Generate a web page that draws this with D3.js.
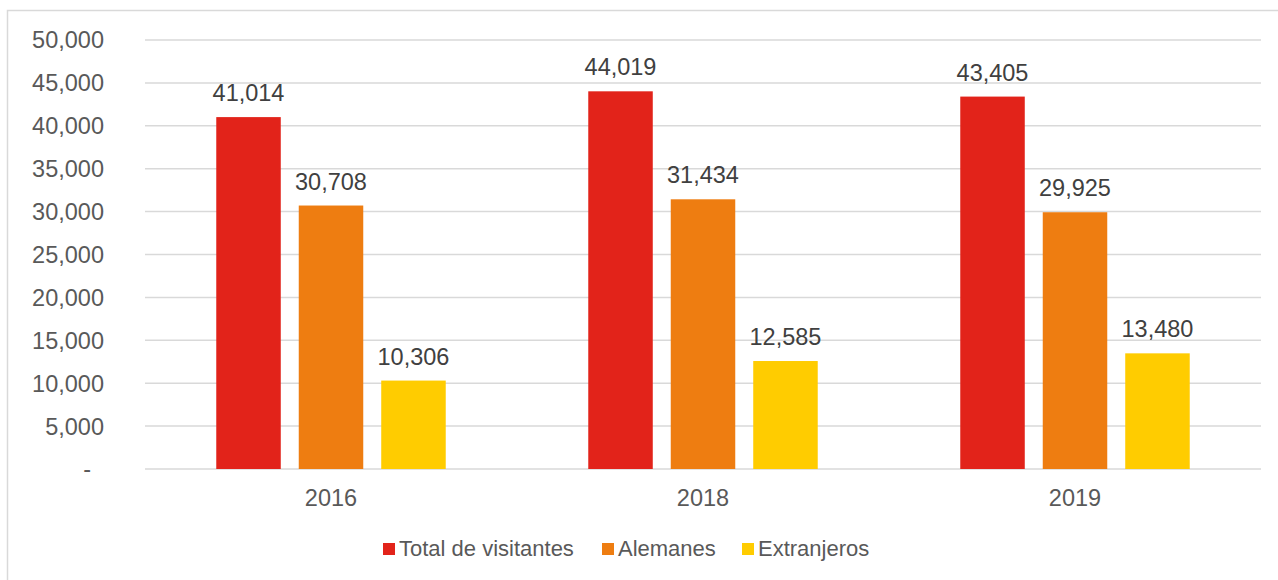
<!DOCTYPE html>
<html>
<head>
<meta charset="utf-8">
<script src="https://cdn.jsdelivr.net/npm/d3@7"></script>
<style>
  body { margin: 0; background: #fff; }
  text { font-family: "Liberation Sans", Arial, sans-serif; fill: #595959; }
</style>
</head>
<body>
<div id="chart"></div>
<script>
const width = 1278, height = 580;

// data
var years = ["2016", "2018", "2019"];
var seriesNames = ["Total de visitantes", "Alemanes", "Extranjeros"];
var totalVisitantes = [41014, 44019, 43405];
var alemanes = [30708, 31434, 29925];
var extranjeros = [10306, 12585, 13480];
var yTicks = [0, 5000, 10000, 15000, 20000, 25000, 30000, 35000, 40000, 45000, 50000];
var colors = ["#e2231a", "#ee7d11", "#ffcc00"];

var seriesValues = [totalVisitantes, alemanes, extranjeros];

var svg = d3.select("#chart").append("svg")
    .attr("width", width)
    .attr("height", height);

// outer frame
svg.append("rect")
    .attr("x", 7.5).attr("y", 10.5)
    .attr("width", 1300).attr("height", 600)
    .attr("fill", "none")
    .attr("stroke", "#d9d9d9")
    .attr("stroke-width", 1.5);

var x0 = d3.scaleBand().domain(years).range([145, 1261]);
var x1 = d3.scaleBand().domain(seriesNames)
    .range([0, x0.bandwidth()])
    .paddingInner(0.218)
    .paddingOuter(0.864);
var y = d3.scaleLinear().domain([0, 50000]).range([469, 40]);

// grid
svg.append("g")
    .selectAll("line")
    .data(yTicks)
    .join("line")
    .attr("x1", 145).attr("x2", 1261)
    .attr("y1", d => y(d)).attr("y2", d => y(d))
    .attr("stroke", "#d9d9d9")
    .attr("stroke-width", 1.5);

// y labels
var fmt = d3.format(",");
svg.append("g")
    .selectAll("text")
    .data(yTicks)
    .join("text")
    .attr("x", d => d === 0 ? 91 : 104)
    .attr("y", d => y(d))
    .attr("dy", "0.36em")
    .attr("text-anchor", "end")
    .style("font-size", "23.5px")
    .text(d => d === 0 ? "-" : fmt(d));

// x labels
svg.append("g")
    .selectAll("text")
    .data(years)
    .join("text")
    .attr("x", d => x0(d) + x0.bandwidth() / 2)
    .attr("y", 506)
    .attr("text-anchor", "middle")
    .style("font-size", "23.5px")
    .text(d => d);

// bars
var rows = [];
years.forEach(function (yr, i) {
    seriesNames.forEach(function (s, j) {
        rows.push({ year: yr, series: s, value: seriesValues[j][i], color: colors[j] });
    });
});

svg.append("g")
    .selectAll("rect")
    .data(rows)
    .join("rect")
    .attr("x", d => x0(d.year) + x1(d.series))
    .attr("y", d => y(d.value))
    .attr("width", x1.bandwidth())
    .attr("height", d => y(0) - y(d.value))
    .attr("fill", d => d.color);

svg.append("g")
    .selectAll("text")
    .data(rows)
    .join("text")
    .attr("x", d => x0(d.year) + x1(d.series) + x1.bandwidth() / 2)
    .attr("y", d => y(d.value) - 16)
    .attr("text-anchor", "middle")
    .style("font-size", "23.5px")
    .style("fill", "#404040")
    .text(d => fmt(d.value));

// legend
var legendX = [383, 602, 742];
var lg = svg.append("g")
    .selectAll("g")
    .data(seriesNames)
    .join("g")
    .attr("transform", (d, i) => "translate(" + legendX[i] + ",543)");

lg.append("rect")
    .attr("width", 12).attr("height", 12)
    .attr("fill", (d, i) => colors[i]);

lg.append("text")
    .attr("x", 16)
    .attr("y", 13)
    .style("font-size", "22px")
    .text(d => d);
</script>
</body>
</html>
